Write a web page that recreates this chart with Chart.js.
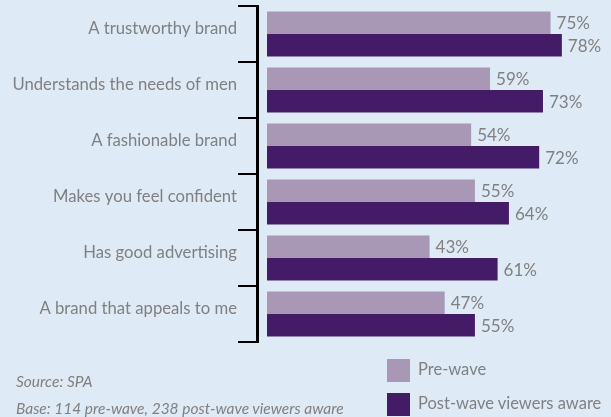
<!DOCTYPE html>
<html>
<head>
<meta charset="utf-8">
<script src="https://cdn.jsdelivr.net/npm/chart.js@4"></script>
<style>
  html, body { margin: 0; padding: 0; background: #deeaf6; }
  #wrap { position: relative; width: 611px; height: 417px; overflow: hidden; font-family: Lato, sans-serif; color: #808080; }
  canvas { position: absolute; left: 0; top: 0; }
  .note { position: absolute; left: 16px; font-style: italic; font-size: 15.5px; white-space: nowrap; }
  .leg { position: absolute; left: 387px; font-size: 16.5px; white-space: nowrap; }
  .leg span { position: absolute; left: 0; top: 0; width: 23px; height: 23px; }
  .leg b { position: absolute; left: 31px; top: 0px; font-weight: normal; }
</style>
</head>
<body>
<div id="wrap">
  <canvas id="grafico" width="611" height="417"></canvas>
  <div class="note" style="top:372px">Source: SPA</div>
  <div class="note" style="top:399px">Base: 114 pre-wave, 238 post-wave viewers aware</div>
  <div class="leg" style="top:359px"><span style="background:#a997b6"></span><b>Pre-wave</b></div>
  <div class="leg" style="top:393px"><span style="background:#441b66"></span><b>Post-wave viewers aware</b></div>
</div>
<script>
const categorias = ['A trustworthy brand', 'Understands the needs of men', 'A fashionable brand', 'Makes you feel confident', 'Has good advertising', 'A brand that appeals to me'];
const preWave = [75, 59, 54, 55, 43, 47];
const postWave = [78, 73, 72, 64, 61, 55];

const valueLabels = {
  id: 'valueLabels',
  afterDatasetsDraw(chart) {
    const ctx = chart.ctx;
    ctx.save();
    ctx.fillStyle = '#808080';
    ctx.font = '17px Lato, sans-serif';
    ctx.textBaseline = 'middle';
    chart.data.datasets.forEach((ds, i) => {
      chart.getDatasetMeta(i).data.forEach((bar, j) => {
        ctx.fillText(ds.data[j] + '%', bar.x + 6, bar.y + 1);
      });
    });
    ctx.restore();
  }
};

const ctx = document.getElementById('grafico').getContext('2d');
new Chart(ctx, {
  type: 'bar',
  data: {
    labels: categorias,
    datasets: [
      { label: 'Pre-wave', data: preWave, backgroundColor: '#a997b6' },
      { label: 'Post-wave viewers aware', data: postWave, backgroundColor: '#441b66' }
    ]
  },
  options: {
    indexAxis: 'y',
    responsive: false,
    animation: false,
    categoryPercentage: 0.8,
    barPercentage: 1.0,
    layout: { padding: { top: 6, bottom: 75, left: 0, right: 0 } },
    plugins: {
      legend: { display: false },
      tooltip: { enabled: false }
    },
    scales: {
      x: { display: false, min: -2.65, max: 91 },
      y: {
        afterFit: scale => {
          scale.width = 257;
          scale.paddingTop = 0;
          scale.paddingBottom = 0;
        },
        grid: { offset: true, drawOnChartArea: false, color: '#000', lineWidth: 2, tickLength: 19 },
        border: { color: '#000', width: 3 },
        ticks: { color: '#808080', font: { family: 'Lato', size: 16.7 }, padding: 1, labelOffset: -5 }
      }
    }
  },
  plugins: [valueLabels]
});
</script>
</body>
</html>
